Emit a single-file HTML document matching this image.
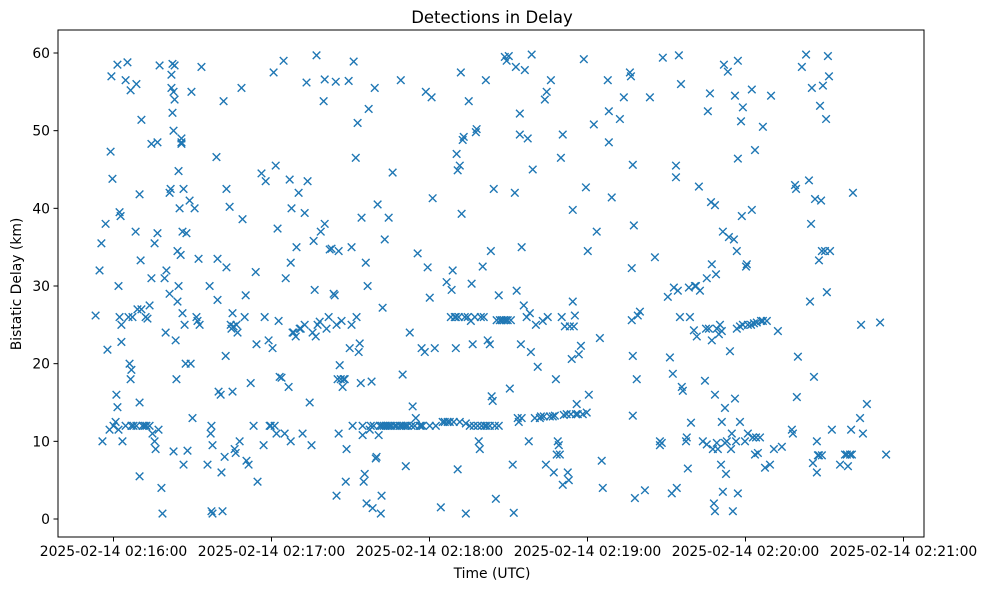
<!DOCTYPE html>
<html><head><meta charset="utf-8"><style>
body{margin:0;background:#fff;}
svg text{font-family:"DejaVu Sans","Liberation Sans",sans-serif;fill:#000;}
</style></head><body>
<svg id="chart" width="987" height="590" xmlns="http://www.w3.org/2000/svg">
<rect width="987" height="590" fill="#fff"/>
<text x="492" y="23" font-size="16.5" text-anchor="middle">Detections in Delay</text>
<text x="492" y="578" font-size="13.9" text-anchor="middle">Time (UTC)</text>
<text transform="translate(21,284) rotate(-90)" font-size="13.9" text-anchor="middle">Bistatic Delay (km)</text>
<g id="marks"></g>
<g id="axes"></g>
</svg>
<script>
// time: seconds after 2025-02-14 02:16:00 UTC; delay: km
const xTickSeconds = [0, 60, 120, 180, 240, 300];
const xTickLabels = ["2025-02-14 02:16:00","2025-02-14 02:17:00","2025-02-14 02:18:00","2025-02-14 02:19:00","2025-02-14 02:20:00","2025-02-14 02:21:00"];
const yTicks = [0, 10, 20, 30, 40, 50, 60];
const detections = [
[-6.8,26.2],[-5.3,32],[-4.6,35.5],[-4.2,10],[-3,38],[-2.3,21.8],[-1.5,11.5],[-1.1,47.3],[-0.8,57],[-0.4,43.8],[0,12],[0.8,12.5],[1.1,16],[1.5,58.5],[1.5,14.4],[1.9,30],[1.9,11.5],[2.3,26],[2.3,39.5],[2.7,39],[3,25],[3,22.8],[3.4,10],[4.6,56.5],[4.6,12],[5.3,58.8],[5.7,26],[6.1,20],[6.5,55.2],[6.5,18],[6.8,19.2],[6.8,12],[7.2,26],[7.6,12],[8.4,37],[8.7,56],[8.7,12],[9.1,27],[9.9,5.5],[9.9,15],[9.9,41.8],[10.3,33.3],[10.6,51.4],[10.6,27],[11,12],[11.8,12],[12.2,26],[12.5,12],[12.9,25.8],[13.7,12],[13.7,27.5],[14.4,31],[14.4,48.3],[14.8,11],[15.6,10],[15.6,35.5],[16,9],[16.7,36.8],[16.7,48.5],[17.1,11.5],[17.5,58.4],[18.2,4],[18.6,0.7],[19.4,31],[19.8,24],[20.1,32],[21.3,42],[21.3,29],[21.7,42.5],[22,57.2],[22,55.5],[22.4,58.6],[22.4,52.3],[22.8,8.7],[22.8,55],[22.8,50],[23.2,58.4],[23.6,23],[23.2,54],[23.9,18],[24.3,34.5],[24.3,28],[24.7,44.8],[24.7,30],[25.1,40],[25.5,34],[25.8,49],[25.8,48.5],[25.8,48.3],[26.2,26.5],[26.2,37],[26.6,42.5],[26.6,7],[27,25],[27.4,20],[27.7,36.8],[28.1,8.8],[28.9,41],[29.3,20],[29.6,55],[30,13],[30.8,40],[31.5,26],[31.9,25.5],[32.3,33.5],[32.7,25],[33.4,58.2],
[35.7,7],[36.5,30],[36.9,11],[37.2,12],[37.2,1],[37.6,0.7],[37.6,9.5],[39.1,46.6],[39.5,28.2],[39.5,33.5],[39.9,16.4],[40.7,16],[41,6],[41.4,1],[41.8,53.8],[42.2,8],[42.6,21],[42.9,42.5],[42.9,32.4],[44.1,40.2],[44.5,25],[44.8,24.5],[45.2,26.5],[45.2,16.4],[45.6,24.8],[46,9],[46.4,8.5],[46.7,25],[47.1,24],[47.9,10],[48.6,55.5],[49,38.6],[49.8,26],[50.2,28.8],[50.5,7.5],[51.3,7],[52.1,17.5],[53.2,12],[54,31.8],[54.3,22.5],[54.7,4.8],[56.2,44.5],[57,9.5],[57.4,26],[57.8,43.5],[58.9,23],[59.3,12],[59.7,12],[60.4,22],[60.8,57.5],[61.2,12],[61.6,45.5],[61.9,11],[62.3,37.4],[62.7,25.5],[63.1,18.3],
[63.8,18.2],[64.6,59],[65,11],[65.4,31],[66.5,17],[66.9,43.7],[67.3,10],[67.3,33],[67.6,40],[68,24],[68.4,24],[69.2,23.5],[69.5,35],[70.3,42],[70.7,24.5],[71.1,24.5],[71.8,11],[72.6,25],[72.6,39.4],[73.3,56.2],[73.7,43.5],[74.5,15],[75.2,9.5],[75.6,24],[76,35.8],[76.4,29.5],[76.8,23.5],[77.1,59.7],[77.5,25],[78.3,25.4],[78.7,37],[79.8,53.8],[80.2,38],[80.2,56.6],[80.9,24.5],[81.7,26],[82.1,34.7],[82.8,34.8],[83.6,29],[84,28.8],[84.4,56.3],[84.7,25],[84.7,3],[85.1,18],[85.5,11],[85.5,34.5],[85.9,19.8],[86.3,18],[86.6,25.5],[87,17],[87.4,18],[87.8,18],[88.2,4.8],[88.5,9],[89.3,56.4],[89.7,22],[90.4,35],[90.4,25],[90.8,12],[91.2,58.9],[92,46.5],[92.3,26],[92.7,51],[93.1,21.5],[93.5,22.6],[93.9,17.5],[94.2,38.8],[94.6,10.8],[94.6,12],[95,4.8],[95.4,5.8],[95.8,33],[96.1,2],[96.5,30],[96.9,52.8],[97.3,11.5],[97.7,12],[98,17.7],[98.4,1.4],[98.8,12],[99.2,55.5],[99.6,7.8],[99.9,8],[100.3,40.5],[100.7,10.8],[101.1,12],[101.5,0.7],[101.8,3],[101.8,12],[102.2,27.2],[102.6,12],[103,36],[103.4,12],[104.1,12],[104.5,38.8],[104.9,12],[105.6,12],[106,44.6],[106.8,12],[107.5,12],[108.7,12],[109.1,56.5],[109.4,12],[109.8,18.6],[110.2,12],[111,12],[111,6.8],[111.7,12],[112.5,24],[113.2,12],[113.6,14.5],[114.4,12],[114.8,13],[115.5,34.2],[116.3,12],[116.7,12],[117,22],[117.4,12],[118.2,21.5],[118.6,55],[119.3,32.4],[120.1,28.5],[120.1,12],[120.8,54.3],[121.2,41.3],[122,22],[122.4,12],
[124.3,1.5],[125,12.5],[125.8,12.5],[126.5,30.5],[126.9,12.5],[127.7,12.5],[128.1,26],[128.4,29.5],[128.8,32],[129.2,12.5],[129.6,26],[130,26],[130,22],[130.3,47],[130.7,6.4],[130.7,44.9],[131.1,26],[131.5,12.5],[131.5,45.5],[131.9,57.5],[132.2,39.3],[132.6,48.8],[133,49.2],[133.4,26],[133.8,0.7],[133.8,12.3],[134.5,26],[134.9,53.8],[135.3,12],[135.7,25.5],[136,30.3],[136.4,22.5],[136.8,12],[137.2,26],[137.6,49.8],[137.9,50.2],[138.3,12],[138.7,10],[139.1,9],[139.5,26],[139.8,12],[140.2,32.5],[140.6,26],[141,12],[141.4,56.5],[141.7,12],[142.1,23],[142.9,12],[142.9,22.5],[143.3,34.5],[143.6,15.8],[144,15.2],[144.4,42.5],[144.8,12],[145.2,2.6],[145.5,25.6],[146.3,28.8],[146.3,12],[146.7,25.6],[147.4,25.6],[148.2,25.6],[148.6,59.5],[149,25.6],[149.3,59],[149.7,25.6],[150.1,59.6],[150.5,16.8],[150.9,25.6],[151.6,7],[152,0.8],[152.4,42],[152.8,58.2],[153.1,29.4],[153.5,13],[153.9,12.5],[154.3,52.2],[154.3,49.5],[154.7,22.5],[155,35],[155,13],[155.8,27.5],[156.2,57.8],[156.9,26],[157.3,49],[157.7,10],[158.1,26.5],[158.5,21.5],[158.8,59.8],[159.2,45],[160,13],[160.4,25],[161.1,19.6],[161.9,13],[162.3,13.2],[163,25.5],[163.4,13.2],[163.8,54],[164.2,7],[164.5,55],[164.9,26],[165.7,13.2],[166.1,56.5],[166.8,13.2],[167.2,6],[167.6,13.3],[168,18],[168.3,8.3],[168.7,10],[169.1,9.5],[169.5,8.3],[169.9,46.5],[170.2,26],[170.6,49.5],[170.6,4.4],[171,13.4],[171.4,24.8],[172.1,13.5],[172.5,6],[172.9,5],[173.3,24.8],[173.7,13.5],[174,20.6],[174.4,39.8],[174.4,28],[174.8,24.8],[175.2,26.2],[175.6,13.5],[175.9,14.8],[176.3,13.5],[176.7,21.2],[177.5,22.3],[178.2,13.5],[178.6,59.2],[179.4,42.7],[179.7,13.7],[180.1,34.5],[180.5,16],
[182.4,50.8],[183.5,37],[184.7,23.3],[185.4,7.5],[185.8,4],[187.7,56.5],[188.1,52.5],[188.1,48.5],[189.2,41.4],[192.3,51.5],[193.8,54.3],[196.1,57.5],[196.5,57],[196.8,32.3],[196.8,25.6],[197.2,13.3],[197.2,21],[197.2,45.6],[197.6,37.8],[198,2.7],[198.7,18],[199.1,26.2],[199.9,26.7],[201.8,3.7],[203.7,54.3],[205.6,33.7],[207.5,10],[207.5,9.5],[208.2,9.8],[208.6,59.4],[210.5,28.6],[211.3,20.8],[212,3.3],[212.4,18.7],[212.8,29.8],[213.6,45.5],[213.6,44],[213.9,4],[214.3,29.4],[214.7,59.7],[215.1,26],[215.5,56],[215.8,17],[216.2,16.5],[217.4,10],[217.7,10.5],[218.1,6.5],[218.5,29.8],[218.9,26],[219.3,12.4],[220.4,24.3],[220.8,30],[221.2,30],[221.5,23.5],[222.3,42.8],[222.7,29.4],[223.8,10],[224.6,17.8],[225,24.5],[225.3,9.6],[225.3,31],[225.7,52.5],[226.1,24.5],[226.5,54.8],[226.9,40.8],[227.2,23],[227.2,32.8],[227.6,9],[228,2],[228.4,16],[228.4,1],[228.4,40.4],[228.8,31.5],[229.1,24.5],[229.1,9.8],[229.5,9],[229.9,23.8],[230.3,25],[230.7,7],[231,24.2],[231,12.5],[231.4,37],[231.4,3.5],[231.8,58.5],[232.2,14.3],[232.2,9.8],[232.6,5.8],[232.9,10],[233.3,57.6],[233.7,36.3],[234.1,21.6],[234.5,9],[234.8,11],[235.2,1],[235.6,36],[236,54.5],[236,15.5],[236.4,10],[236.7,24.5],[236.7,34.5],[237.1,59],[237.1,46.4],[237.1,3.3],[237.9,12.5],[237.9,24.8],[238.3,51.2],[238.6,39],[239,53],[239,25],
[239.8,10],[240.2,32.5],[240.5,32.8],[240.9,11],[240.9,25],[242.1,25],[242.4,55.3],[242.4,39.8],[242.8,10.5],[243.2,25.2],[243.6,47.5],[243.6,8.3],[244,10.5],[244.3,25.3],[244.7,8.5],[245.5,10.5],[245.9,25.5],[246.6,25.5],[246.6,50.5],[247.4,6.6],[248.1,25.5],[249.3,7],[249.7,54.5],[250.8,9],[252.3,24.2],[253.8,9.3],[257.6,11.5],[258,11],[258.8,43],[259.2,42.5],[259.5,15.7],[259.9,20.9],[261.4,58.2],[263,59.8],[264.1,43.6],[264.5,28],[264.9,38],[265.2,55.5],[265.6,7.2],[266,18.3],[266.4,41.2],[267.1,6],[267.1,10],[267.5,8.2],[267.9,33.3],[267.9,8.2],[268.3,53.2],[268.7,41],[269,34.5],[269,8.2],[269.4,55.8],[270.2,34.5],[270.6,51.5],[270.9,29.2],[271.3,59.6],[271.7,57],[272.1,34.5],[272.8,11.5],[275.9,7],[277.8,8.3],[278.5,8.3],[278.9,6.8],[279.7,8.3],[280.4,8.3],[280.1,11.5],[280.8,42],[283.5,13],[283.9,25],[284.6,11],[286.1,14.8],[291.1,25.3],[293.4,8.3]
];
const NS='http://www.w3.org/2000/svg';
const L=58,R=924,T=30,B=537;
const xScale = s => 113.5 + s*(158/60);
const yScale = v => 519 - v*(466/60);
const marks=document.getElementById('marks');
detections.forEach(d=>{
  const x=xScale(d[0]), y=yScale(d[1]), r=3.8;
  const p=document.createElementNS(NS,'path');
  p.setAttribute('d',`M${x-r},${y-r}L${x+r},${y+r}M${x-r},${y+r}L${x+r},${y-r}`);
  p.setAttribute('stroke','#1f77b4');p.setAttribute('stroke-width','1.4');p.setAttribute('fill','none');
  
  
  marks.appendChild(p);
});
const axes=document.getElementById('axes');
const frame=document.createElementNS(NS,'rect');
frame.setAttribute('x',L);frame.setAttribute('y',T);frame.setAttribute('width',R-L);frame.setAttribute('height',B-T);
frame.setAttribute('fill','none');frame.setAttribute('stroke','#000');frame.setAttribute('stroke-width','1');


axes.appendChild(frame);
yTicks.forEach(v=>{
  const y=yScale(v);
  const l=document.createElementNS(NS,'line');
  l.setAttribute('x1',L-4.5);l.setAttribute('x2',L);l.setAttribute('y1',y);l.setAttribute('y2',y);l.setAttribute('stroke','#000');
  
  
  axes.appendChild(l);
  const t=document.createElementNS(NS,'text');
  t.setAttribute('x',L-8);t.setAttribute('y',y+5);t.setAttribute('font-size','13.9');t.setAttribute('text-anchor','end');
  t.textContent=v;
  
  
  axes.appendChild(t);
});
xTickSeconds.forEach((s,i)=>{
  const x=xScale(s);
  const l=document.createElementNS(NS,'line');
  l.setAttribute('x1',x);l.setAttribute('x2',x);l.setAttribute('y1',B);l.setAttribute('y2',B+4.5);l.setAttribute('stroke','#000');
  
  
  axes.appendChild(l);
  const t=document.createElementNS(NS,'text');
  t.setAttribute('x',x);t.setAttribute('y',B+19);t.setAttribute('font-size','13.9');t.setAttribute('text-anchor','middle');
  t.textContent=xTickLabels[i];
  
  
  axes.appendChild(t);
});
</script>
</body></html>
